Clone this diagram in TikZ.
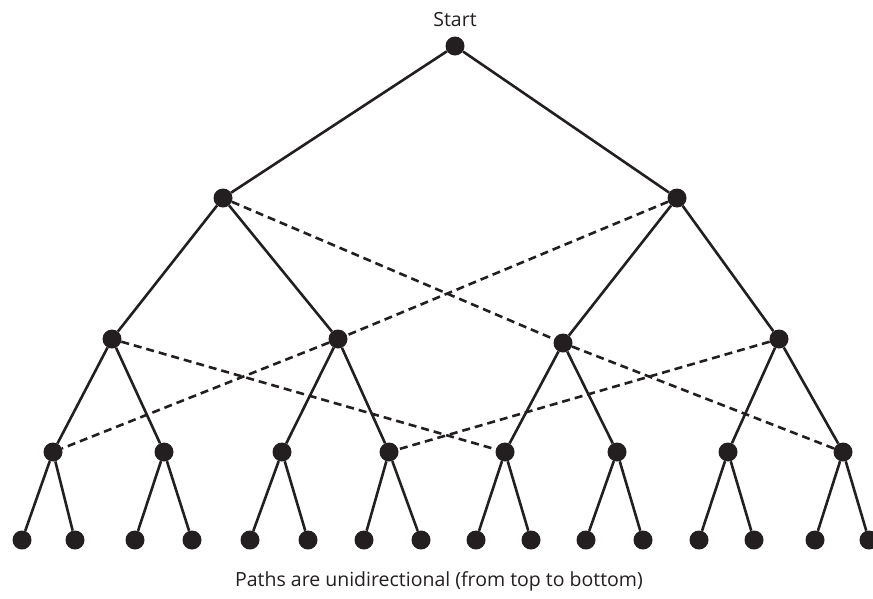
\documentclass[tikz,border=0pt]{standalone}
\usepackage{fontspec}
\setmainfont{Open Sans}
\definecolor{ink}{HTML}{231F20}
\begin{document}
\begin{tikzpicture}[x=1pt,y=-1pt,
  dot/.style={circle,fill=ink,draw=none,inner sep=0pt,minimum size=19pt},
  edge/.style={draw=ink,line width=2.6pt},
  cross/.style={draw=ink,line width=2.6pt,dash pattern=on 8pt off 5pt},
  caption/.style={font=\fontsize{19.5}{23}\selectfont,text=ink,inner sep=0pt}]
\useasboundingbox[fill=white] (0,0) rectangle (873,598);

% levels of the tree
\node[dot] (r) at (455,46) {};
\node[dot] (a1) at (223,198) {};
\node[dot] (a2) at (677,198) {};
\node[dot] (b1) at (112,339) {};
\node[dot] (b2) at (338,339) {};
\node[dot] (b3) at (563,343) {};
\node[dot] (b4) at (779,339) {};
\foreach \i/\x in {1/53,2/164,3/282,4/389,5/505,6/617,7/728,8/843}
  \node[dot] (c\i) at (\x,452) {};
\foreach \i/\x in {1/22,2/75,3/135,4/192,5/250,6/308,7/364,8/421,
                   9/476,10/531,11/586,12/643,13/699,14/754,15/815,16/869}
  \node[dot] (d\i) at (\x,540) {};

% labels
\node[caption] (start) at (455,20) {Start};
\node[caption] (note) at (439,581) {Paths are unidirectional (from top to bottom)};

% solid branches
\draw[edge] (r) -- (a1);
\draw[edge] (r) -- (a2);
\draw[edge] (a1) -- (b1);
\draw[edge] (a1) -- (b2);
\draw[edge] (a2) -- (b3);
\draw[edge] (a2) -- (b4);
\draw[edge] (b1) -- (c1);
\draw[edge] (b1) -- (c2);
\draw[edge] (b2) -- (c3);
\draw[edge] (b2) -- (c4);
\draw[edge] (b3) -- (c5);
\draw[edge] (b3) -- (c6);
\draw[edge] (b4) -- (c7);
\draw[edge] (b4) -- (c8);
\foreach \i [evaluate=\i as \l using int(2*\i-1), evaluate=\i as \r using int(2*\i)] in {1,...,8} {
  \draw[edge] (c\i) -- (d\l);
  \draw[edge] (c\i) -- (d\r);
}

% dashed cross links
\draw[cross] (a1) -- (b3);
\draw[cross] (b3) -- (c8);
\draw[cross] (a2) -- (b2);
\draw[cross] (b2) -- (c1);
\draw[cross] (b1) -- (c5);
\draw[cross] (b4) -- (c4);
\end{tikzpicture}
\end{document}
